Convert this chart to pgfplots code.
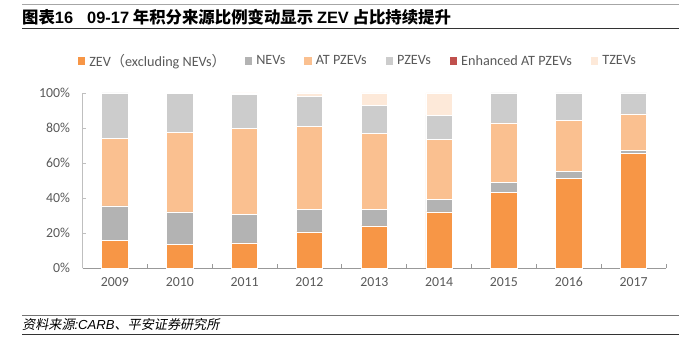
\documentclass[border=0pt]{standalone}
\usepackage{pgfplots}
\pgfplotsset{compat=1.18}
\usepackage{fontspec}
\setmainfont{Carlito}
\newfontfamily\cjk{Noto Sans CJK SC}
\newfontfamily\cjkit[FakeSlant=0.2]{Noto Sans CJK SC}
\newfontfamily\arial{Liberation Sans}
\definecolor{cZEV}{HTML}{F79646}
\definecolor{cNEV}{HTML}{B3B3B3}
\definecolor{cAT}{HTML}{FAC090}
\definecolor{cPZEV}{HTML}{CCCCCC}
\definecolor{cEnh}{HTML}{C0504D}
\definecolor{cTZEV}{HTML}{FDE9D9}
\definecolor{axgray}{HTML}{BFBFBF}
\definecolor{txtgray}{HTML}{595959}
\begin{document}
\begin{tikzpicture}
\path[use as bounding box] (0pt,0pt) rectangle (679pt,356pt);
% header
\draw[black!35, line width=0.8pt] (22pt,351.3pt) -- (679pt,351.3pt);
\draw[black!80, line width=1pt] (22pt,327.5pt) -- (679pt,327.5pt);
\node[anchor=west, inner sep=0pt, font=\fontsize{16.4}{19}\selectfont\bfseries] at (22pt,339pt) {{\cjk 图表}{\arial 16}\hspace{14pt}{\arial 09-17} {\cjk 年积分来源比例变动显示} {\arial ZEV} {\cjk 占比持续提升}};
% footer
\draw[black!55, line width=1.2pt] (22pt,40.3pt) -- (679pt,40.3pt);
\draw[black!80, line width=0.8pt] (22pt,21.7pt) -- (679pt,21.7pt);
\node[anchor=west, inner sep=0pt, font=\fontsize{13.1}{16}\selectfont] at (22pt,31pt) {{\cjkit 资料来源}{\arial\itshape :CARB}{\cjkit 、平安证券研究所}};
\begin{axis}[
  at={(82.5pt,88pt)}, anchor=south west,
  scale only axis, width=583.5pt, height=175pt,
  ybar stacked, bar width=26.3pt,
  ymin=0, ymax=100, xmin=-0.5, xmax=8.5,
  xtick={0,...,8},
  xticklabels={2009,2010,2011,2012,2013,2014,2015,2016,2017},
  minor xtick={-0.5,0.5,...,8.5},
  ytick={0,20,...,100},
  yticklabel={\pgfmathprintnumber{\tick}\%},
  /pgf/number format/assume math mode=true,
  axis x line*=bottom, axis y line*=left,
  axis line style={draw=axgray, line width=0.8pt, -},
  x axis line style={draw=black!40},
  tick align=inside,
  major tick length=3pt, minor tick length=4pt,
  major x tick style={draw=none},
  minor x tick style={draw=black!40, line width=0.8pt},
  y tick style={draw=axgray, line width=0.8pt},
  tick label style={text=txtgray, font=\fontsize{13.8}{16}\selectfont},
  yticklabel style={xshift=-9pt},
  xticklabel style={yshift=-6pt},
  legend style={at={(0.472,1.183)}, anchor=center, draw=none, fill=none,
    legend columns=6, font=\fontsize{14.2}{16}\selectfont, text=txtgray,
    /tikz/every even column/.append style={column sep=17pt},
    /tikz/every odd column/.append style={column sep=2pt}},
  legend image code/.code={\path[#1, draw=none] (0pt,-3.7pt) rectangle (7.4pt,3.7pt);},
  every axis plot/.append style={draw=white, line width=0.6pt},
]
\addplot[fill=cZEV] coordinates {(0,16.0) (1,13.7) (2,14.3) (3,20.6) (4,24.0) (5,32.0) (6,43.2) (7,51.2) (8,65.5)};
\addplot[fill=cNEV] coordinates {(0,19.5) (1,18.3) (2,16.3) (3,12.9) (4,9.5) (5,7.2) (6,5.7) (7,4.0) (8,1.9)};
\addplot[fill=cAT] coordinates {(0,38.5) (1,45.5) (2,49.0) (3,47.4) (4,43.6) (5,34.5) (6,34.0) (7,29.0) (8,20.6)};
\addplot[fill=cPZEV] coordinates {(0,26.0) (1,22.2) (2,19.4) (3,17.1) (4,15.8) (5,13.7) (6,17.1) (7,15.8) (8,12.0)};
\addplot[fill=cEnh] coordinates {(0,0) (1,0.3) (2,0) (3,0) (4,0) (5,0) (6,0) (7,0) (8,0)};
\addplot[fill=cTZEV] coordinates {(0,0) (1,0) (2,1.0) (3,2.0) (4,7.1) (5,12.6) (6,0) (7,0) (8,0)};
\legend{ZEV{\cjk （}excluding NEVs{\cjk ）},NEVs,AT PZEVs,PZEVs,Enhanced AT PZEVs,TZEVs}
\end{axis}
\end{tikzpicture}
\end{document}
